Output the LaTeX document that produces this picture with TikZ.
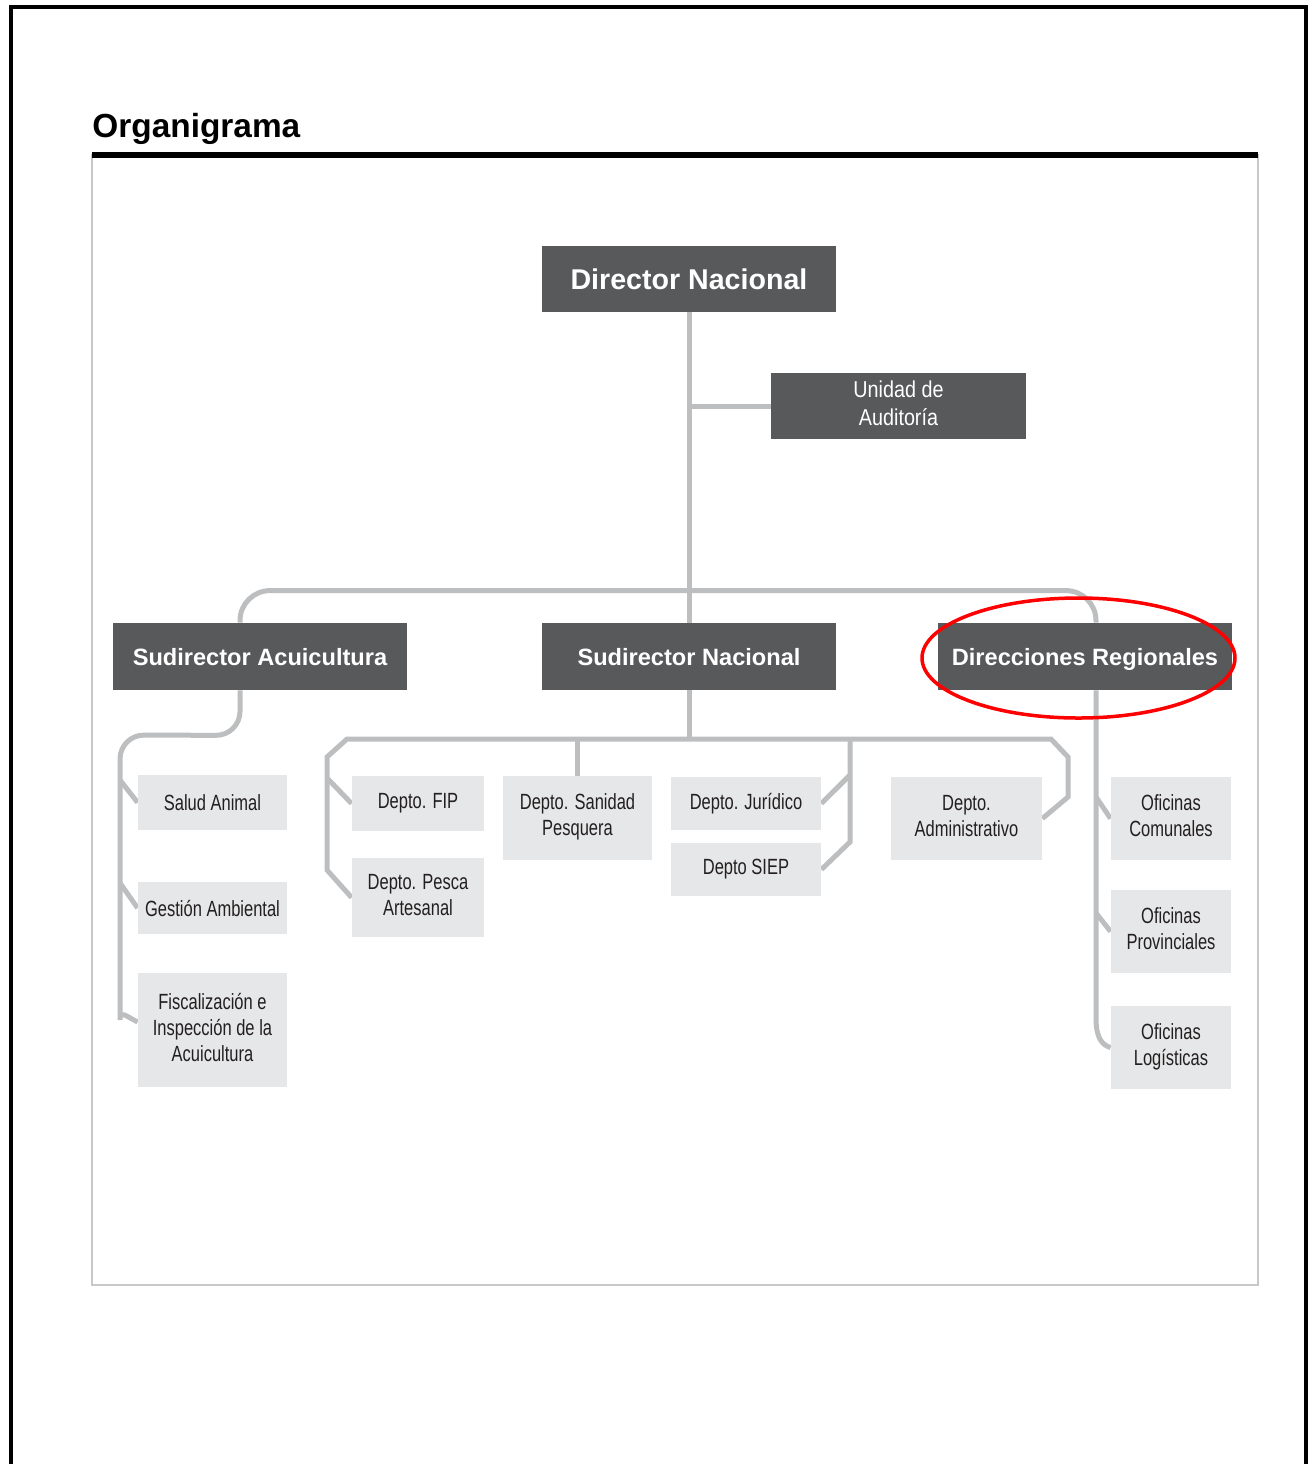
\documentclass[tikz,border=0pt]{standalone}
\usepackage{fontspec}
\setmainfont{Liberation Sans}
\newfontfamily\condfont[FakeStretch=0.75]{Liberation Sans}
\newfontfamily\condfontw[FakeStretch=0.86]{Liberation Sans}
\usetikzlibrary{backgrounds,calc}
\definecolor{dk}{HTML}{58595B}
\definecolor{lt}{HTML}{E6E7E8}
\definecolor{cn}{HTML}{BCBEC0}
\definecolor{frm}{HTML}{C8C8C8}
\definecolor{txt}{HTML}{231F20}
\tikzset{
  darkbox/.style={fill=dk, text=white, inner sep=0pt, align=center,
    font=\bfseries\fontsize{11.8}{14}\selectfont},
  subbox/.style={darkbox, minimum width=147pt, minimum height=33.5pt,
    text height=0.87em, text depth=0pt},
  lightbox/.style={fill=lt, text=txt, inner sep=0pt, align=center,
    font=\condfont\fontsize{11}{13}\selectfont},
  multi/.style={text depth=0.3em},
  conn/.style={draw=cn, line width=2.5pt},
}
\begin{document}
\begin{tikzpicture}[x=0.5pt,y=-0.5pt]
\useasboundingbox (0,0) rectangle (1309,1464);

% title
\node[anchor=base west, inner sep=0pt, font=\bfseries\fontsize{16.7}{20}\selectfont] (title) at (92,137) {Organigrama};

% top level
\node[darkbox, minimum width=147pt, minimum height=33pt, font=\bfseries\fontsize{14.3}{17}\selectfont] (dn) at (689,279) {Director Nacional};
\node[darkbox, multi, minimum width=127.5pt, minimum height=33pt, font=\condfontw\fontsize{11.5}{14}\selectfont] (ua) at (898.5,406) {Unidad de\\Auditoría};

% second level
\node[subbox] (sa) at (260,656.5) {Sudirector Acuicultura};
\node[subbox] (sn) at (689,656.5) {Sudirector Nacional};
\node[subbox] (dr) at (1085,656.5) {Direcciones Regionales};

% left column
\node[lightbox, minimum width=74.5pt, minimum height=27.5pt] (salud) at (212.5,802.5) {Salud Animal};
\node[lightbox, minimum width=74.5pt, minimum height=26pt] (gestion) at (212.5,908) {Gestión Ambiental};
\node[lightbox, multi, minimum width=74.5pt, minimum height=57pt] (fisc) at (212.5,1030) {Fiscalización e\\Inspección de la\\Acuicultura};

% middle
\node[lightbox, minimum width=66pt, minimum height=27.5pt] (fip) at (418,803.5) {Depto. FIP};
\node[lightbox, multi, minimum width=66pt, minimum height=39.5pt] (pesca) at (418,897.5) {Depto. Pesca\\Artesanal};
\node[lightbox, multi, minimum width=74.5pt, minimum height=42pt] (sanidad) at (577.5,818) {Depto. Sanidad\\Pesquera};
\node[lightbox, minimum width=75pt, minimum height=26.5pt] (juridico) at (746,803.5) {Depto. Jurídico};
\node[lightbox, minimum width=75pt, minimum height=26.5pt] (siep) at (746,869.5) {Depto SIEP};
\node[lightbox, multi, minimum width=75.5pt, minimum height=41.5pt] (admin) at (966.5,818.5) {Depto.\\Administrativo};

% right column
\node[lightbox, multi, minimum width=60pt, minimum height=41.5pt] (ofcom) at (1171,818.5) {Oficinas\\Comunales};
\node[lightbox, multi, minimum width=60pt, minimum height=41.5pt] (ofprov) at (1171,931.5) {Oficinas\\Provinciales};
\node[lightbox, multi, minimum width=60pt, minimum height=41.5pt] (oflog) at (1171,1047.5) {Oficinas\\Logísticas};

\begin{scope}[on background layer]
  % frames
  \draw[draw=frm, line width=1pt] (92,155) rectangle (1258,1285);
  \draw[line width=3pt] (92,155) -- (1258,155);
  \draw[line width=1.75pt] (11,1464) -- (11,7) -- (1306,7) -- (1306,1464);

  % director connectors
  \draw[conn] (dn.south) -- (sn.north);
  \draw[conn] (dn.south |- ua.west) -- (ua.west);
  \draw[conn, rounded corners=15pt] ($(sa.north)+(-20,0)$) |- ($(dr.north)+(11,-32)$) -- ($(dr.north)+(11,0)$);

  % left branch
  \draw[conn, rounded corners=12pt] ($(sa.south)+(-20,0)$) -- ++(0,45) -- (120,735) -- (120,996)
     [sharp corners] .. controls (120,1010) and (126,1016) .. ($(fisc.west)+(0,-8)$);
  \draw[conn] (120,780) -- (salud.west);
  \draw[conn] (120,883) -- (gestion.west);

  % middle branch
  \draw[conn] (sn.south) -- (689,739);
  \draw[conn] (pesca.west) -- (327,870) -- (327,757) -- (347,739) -- (1051,739) -- (1068,757) -- (1068,797) -- (admin.east);
  \draw[conn] (327,778) -- (fip.west);
  \draw[conn] (sanidad.north) -- ++(0,-37);
  \draw[conn] (850,739) -- (850,842) -- (siep.east);
  \draw[conn] (850,775) -- (juridico.east);

  % right branch
  \draw[conn] ($(dr.south)+(11,0)$) -- (1096,1018) .. controls (1096,1038) and (1102,1045) .. (oflog.west);
  \draw[conn] (1096,797) -- (ofcom.west);
  \draw[conn] (1096,913) -- (ofprov.west);
\end{scope}

% red highlight
\draw[red, line width=1.75pt] (1078.5,658) ellipse [x radius=78.25pt, y radius=30pt];
\end{tikzpicture}
\end{document}
